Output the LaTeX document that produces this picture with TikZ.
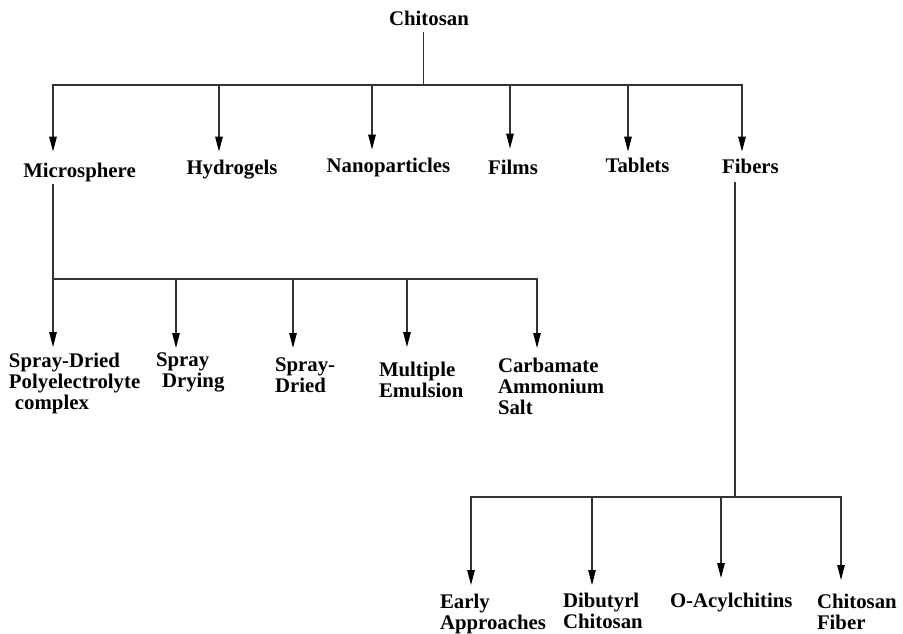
\documentclass[tikz,border=0pt]{standalone}
\usepackage{fontspec}
\setmainfont{Liberation Serif}
\usetikzlibrary{arrows.meta}
\begin{document}
\begin{tikzpicture}[x=1pt,y=-1pt,
  lbl/.style={font=\bfseries\fontsize{20.8}{20.8}\selectfont, inner sep=0pt, outer sep=0pt, align=left},
  wire/.style={draw=black!80, line width=1.3pt},
  bar/.style={wire, line cap=rect},
  arr/.style={wire, -{Triangle[length=15pt,width=7.5pt,color=black]}, shorten >=#1},
  arr/.default=8pt]
\useasboundingbox (0,0) rectangle (903,633);

% root and first level
\node[lbl, anchor=base] (root)    at (429,25) {Chitosan};
\node[lbl, anchor=base] (micro)   at (79.5,177) {Microsphere};
\node[lbl, anchor=base] (hydro)   at (232,174)  {Hydrogels};
\node[lbl, anchor=base] (nano)    at (388.5,172) {Nanoparticles};
\node[lbl, anchor=base] (films)   at (513,174)  {Films};
\node[lbl, anchor=base] (tablets) at (637.5,172) {Tablets};
\node[lbl, anchor=base] (fibers)  at (750.5,173) {Fibers};

% microsphere methods
\node[lbl, anchor=north west] (sdpc)  at (9,353)   {Spray-Dried\\Polyelectrolyte\\\hspace*{6pt}complex};
\node[lbl, anchor=north west] (sdry)  at (156,353) {Spray\\\hspace*{6pt}Drying};
\node[lbl, anchor=north west] (sdash) at (275,358) {Spray-\\Dried};
\node[lbl, anchor=north west] (memul) at (379,362) {Multiple\\Emulsion};
\node[lbl, anchor=north west] (carb)  at (498,358) {Carbamate\\Ammonium\\Salt};

% fiber routes
\node[lbl, anchor=north west] (early) at (440,594) {Early\\Approaches};
\node[lbl, anchor=north west] (dibut) at (563,593) {Dibutyrl\\Chitosan};
\node[lbl, anchor=north west] (oacyl) at (670,593) {O-Acylchitins};
\node[lbl, anchor=north west] (chfib) at (817,594) {Chitosan\\Fiber};

% junction points
\coordinate (r0) at (423.5,85);
\coordinate (t1) at (53,85);
\coordinate (t2) at (219,85);
\coordinate (t3) at (372,85);
\coordinate (t4) at (510,85);
\coordinate (t5) at (628,85);
\coordinate (t6) at (742,85);

\coordinate (s1) at (53,279);
\coordinate (s2) at (176,279);
\coordinate (s3) at (293,279);
\coordinate (s4) at (407,279);
\coordinate (s5) at (537,279);

\coordinate (f0) at (735,497);
\coordinate (u1) at (471,497);
\coordinate (u2) at (592,497);
\coordinate (u3) at (721,497);
\coordinate (u4) at (841,497);

% root branch
\draw[wire, shorten <=7pt] (root.south -| r0) -- (r0);
\draw[bar] (t1) -- (t6);
\draw[arr=11pt] (t1) -- (t1 |- micro.north);
\draw[arr=8pt]  (t2) -- (t2 |- hydro.north);
\draw[arr=8pt]  (t3) -- (t3 |- nano.north);
\draw[arr=11pt] (t4) -- (t4 |- films.north);
\draw[arr=6pt]  (t5) -- (t5 |- tablets.north);
\draw[arr=7pt]  (t6) -- (t6 |- fibers.north);

% microsphere branch
\draw[wire, shorten <=3pt] (micro.south -| s1) -- (s1);
\draw[bar] (s1) -- (s5);
\draw[arr=6pt]  (s1) -- (s1 |- sdpc.north);
\draw[arr=5pt]  (s2) -- (s2 |- sdry.north);
\draw[arr=10pt] (s3) -- (s3 |- sdash.north);
\draw[arr=15pt] (s4) -- (s4 |- memul.north);
\draw[arr=10pt] (s5) -- (s5 |- carb.north);

% fibers branch
\draw[wire, shorten <=9pt] (fibers.south -| f0) -- (f0);
\draw[bar] (u1) -- (u4);
\draw[arr=9pt]  (u1) -- (u1 |- early.north);
\draw[arr=8pt]  (u2) -- (u2 |- dibut.north);
\draw[arr=15pt] (u3) -- (u3 |- oacyl.north);
\draw[arr=14pt] (u4) -- (u4 |- chfib.north);
\end{tikzpicture}
\end{document}
